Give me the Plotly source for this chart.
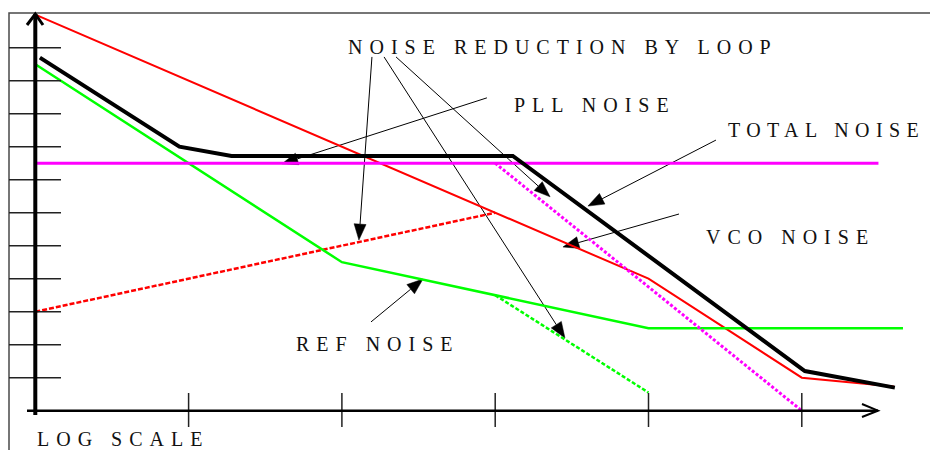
import numpy as np
import plotly.graph_objects as go

# ---------------- data (x: log-frequency decades, y: noise level) ----------------
vco_x = [0, 4, 5, 5.6]
vco_y = [12, 4, 1, 0.73]
vco_loop_x = [0, 3]
vco_loop_y = [3, 6]
pll_x = [0, 5.5]
pll_y = [7.5, 7.5]
pll_reduced_x = [3, 5]
pll_reduced_y = [7.5, 0]
ref_x = [0, 2, 4, 5.66]
ref_y = [10.5, 4.5, 2.5, 2.5]
ref_reduced_x = [3, 4]
ref_reduced_y = [3.5, 0.55]
total_x = [0.03, 0.94, 1.28, 3.115, 5.02, 5.607]
total_y = [10.7, 8.0, 7.72, 7.72, 1.2, 0.70]

x_ticks = [1, 2, 3, 4, 5]
y_ticks = [1, 2, 3, 4, 5, 6, 7, 8, 9, 10, 11]

# arrows: (tail_x, tail_y, tip_x, tip_y)
arrow_tail_x = [2.196, 2.275, 2.353, 2.946, 4.44, 4.199, 2.19]
arrow_tail_y = [10.72, 10.72, 10.72, 9.48, 8.2, 5.96, 2.69]
arrow_tip_x = [2.111, 3.455, 3.358, 1.609, 3.605, 3.442, 2.529]
arrow_tip_y = [5.17, 2.2, 6.48, 7.48, 6.2, 4.96, 3.99]

labels = ["NOISE REDUCTION BY LOOP", "PLL NOISE", "TOTAL NOISE",
          "VCO NOISE", "REF NOISE", "LOG SCALE"]

# ---------------- layout geometry ----------------
W, H = 930, 450
X_RANGE = [-0.2303, 5.8363]
Y_RANGE = [-1.191, 12.445]
SX = W / (X_RANGE[1] - X_RANGE[0])
SY = H / (Y_RANGE[1] - Y_RANGE[0])


def px2x(p):
    return X_RANGE[0] + p / SX


def py2y(p):
    return Y_RANGE[1] - p / SY


fig = go.Figure()

# ---- arrows (thin line + filled triangular head) ----
L_HEAD, W_HEAD = 16.0, 12.0
line_x, line_y, head_x, head_y = [], [], [], []
for tx, ty, hx, hy in zip(arrow_tail_x, arrow_tail_y, arrow_tip_x, arrow_tip_y):
    t = np.array([tx * SX, ty * SY])
    h = np.array([hx * SX, hy * SY])
    u = (h - t) / np.linalg.norm(h - t)
    n = np.array([-u[1], u[0]])
    b = h - L_HEAD * u
    c1 = b + n * W_HEAD / 2
    c2 = b - n * W_HEAD / 2
    line_x += [t[0] / SX, b[0] / SX, None]
    line_y += [t[1] / SY, b[1] / SY, None]
    for p in (h, c1, c2, h):
        head_x.append(p[0] / SX)
        head_y.append(p[1] / SY)
    head_x.append(None)
    head_y.append(None)

fig.add_trace(go.Scatter(x=line_x, y=line_y, mode="lines",
                         line=dict(color="black", width=1), hoverinfo="skip"))
fig.add_trace(go.Scatter(x=head_x, y=head_y, mode="lines", fill="toself",
                         fillcolor="black", line=dict(color="black", width=0.5),
                         hoverinfo="skip"))

# ---- noise curves ----
fig.add_trace(go.Scatter(x=vco_x, y=vco_y, mode="lines",
                         line=dict(color="#FF0000", width=2)))
fig.add_trace(go.Scatter(x=vco_loop_x, y=vco_loop_y, mode="lines",
                         line=dict(color="#FF0000", width=2.5, dash="5px,2px")))
fig.add_trace(go.Scatter(x=ref_x, y=ref_y, mode="lines",
                         line=dict(color="#00FF00", width=2.5)))
fig.add_trace(go.Scatter(x=ref_reduced_x, y=ref_reduced_y, mode="lines",
                         line=dict(color="#00FF00", width=2.5, dash="4px,2px")))
fig.add_trace(go.Scatter(x=pll_x, y=pll_y, mode="lines",
                         line=dict(color="#FF00FF", width=3)))
fig.add_trace(go.Scatter(x=pll_reduced_x, y=pll_reduced_y, mode="lines",
                         line=dict(color="#FF00FF", width=3, dash="3px,2px")))
fig.add_trace(go.Scatter(x=total_x, y=total_y, mode="lines",
                         line=dict(color="black", width=4)))

# ---- hand-drawn axes, ticks and frame ----
shapes = []
# frame (top and left edges visible)
shapes.append(dict(type="rect", xref="paper", yref="paper",
                   x0=9 / W, x1=1.2, y0=-0.2, y1=1 - 13 / H,
                   line=dict(color="#4a4a4a", width=1.5), layer="below"))
for k in y_ticks:
    shapes.append(dict(type="line", x0=px2x(9), x1=px2x(61), y0=k, y1=k,
                       line=dict(color="#222222", width=1.5)))
for k in x_ticks:
    shapes.append(dict(type="line", x0=k, x1=k, y0=py2y(393), y1=py2y(427),
                       line=dict(color="#222222", width=1.5)))
# y axis
shapes.append(dict(type="line", x0=0, x1=0, y0=py2y(415), y1=py2y(14),
                   line=dict(color="black", width=4)))
shapes.append(dict(type="path",
                   path=f"M {px2x(27)},{py2y(25)} L 0,{py2y(14)} L {px2x(43)},{py2y(25)}",
                   line=dict(color="black", width=3)))
# x axis
shapes.append(dict(type="line", x0=px2x(27), x1=px2x(878), y0=0, y1=0,
                   line=dict(color="black", width=2.5)))
shapes.append(dict(type="path",
                   path=f"M {px2x(862)},{py2y(404)} L {px2x(878)},0 L {px2x(862)},{py2y(417)}",
                   line=dict(color="black", width=2)))

# ---- labels ----
label_pos = [(347, 47), (513, 105), (727, 130), (705, 237), (295, 344), (36, 439)]
annotations = []
for txt, (lx, ly) in zip(labels, label_pos):
    annotations.append(dict(text=txt, x=px2x(lx), y=py2y(ly), xref="x", yref="y",
                            xanchor="left", yanchor="middle", align="left",
                            showarrow=False, borderpad=0,
                            font=dict(family="Liberation Serif", size=20, color="#111111")))

fig.update_layout(
    width=W, height=H, margin=dict(l=0, r=0, t=0, b=0),
    paper_bgcolor="white", plot_bgcolor="white", showlegend=False,
    xaxis=dict(range=X_RANGE, visible=False, fixedrange=True),
    yaxis=dict(range=Y_RANGE, visible=False, fixedrange=True),
    shapes=shapes, annotations=annotations,
)

post = ("document.body.style.margin='0';document.body.style.overflow='hidden';"
        "var gd=document.getElementById('{plot_id}');"
        "function ls(){gd.querySelectorAll('text.annotation-text').forEach("
        "function(t){t.style.letterSpacing=(t.textContent==='TOTAL NOISE')?'6.4px':'7px';});}"
        "ls(); gd.on('plotly_afterplot', ls);")

fig.write_html("out.html", config={"displayModeBar": False}, post_script=post)
